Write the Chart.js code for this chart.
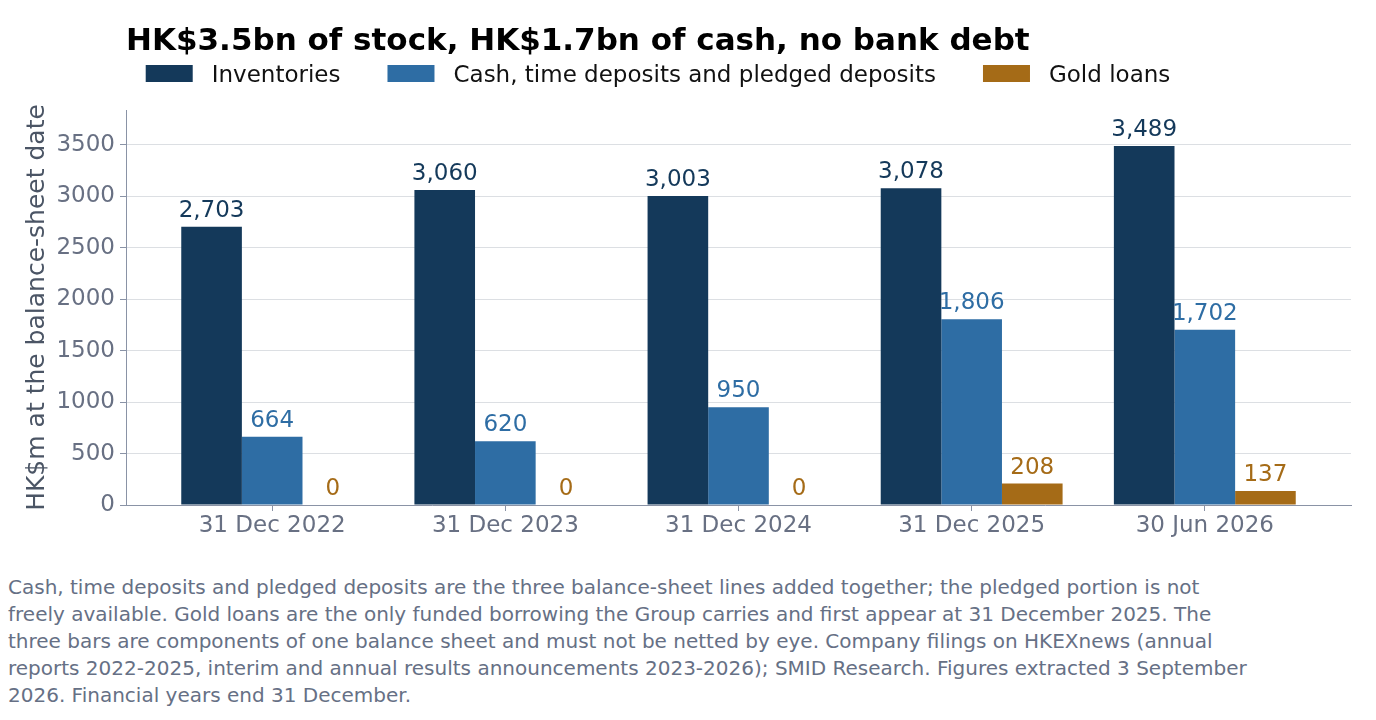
<!DOCTYPE html>
<html>
<head>
<meta charset="utf-8">
<script src="https://cdn.jsdelivr.net/npm/chart.js@4.4.1/dist/chart.umd.min.js"></script>
<style>
  html, body { margin: 0; padding: 0; background: #fff; }
  #wrap { position: relative; width: 1376px; height: 720px; }
  #chart { position: absolute; left: 0; top: 0; }
  #note {
    position: absolute; left: 8px; top: 574px; width: 1368px;
    font-family: "DejaVu Sans", sans-serif; font-size: 20px; line-height: 27px;
    color: #667085; white-space: nowrap;
  }
</style>
</head>
<body>
<div id="wrap">
  <canvas id="chart" width="1376" height="560"></canvas>
  <div id="note">Cash, time deposits and pledged deposits are the three balance-sheet lines added together; the pledged portion is not<br>freely available. Gold loans are the only funded borrowing the Group carries and first appear at 31 December 2025. The<br>three bars are components of one balance sheet and must not be netted by eye. Company filings on HKEXnews (annual<br>reports 2022-2025, interim and annual results announcements 2023-2026); SMID Research. Figures extracted 3 September<br>2026. Financial years end 31 December.</div>
</div>
<script>
const dates = ["31 Dec 2022", "31 Dec 2023", "31 Dec 2024", "31 Dec 2025", "30 Jun 2026"];
const inventories = [2703, 3060, 3003, 3078, 3489];
const cashDeposits = [664, 620, 950, 1806, 1702];
const goldLoans = [0, 0, 0, 208, 137];
const yTicks = [0, 500, 1000, 1500, 2000, 2500, 3000, 3500];

const FONT = "DejaVu Sans";
const NAVY = "#14395a";
const BLUE = "#2e6da4";
const GOLD = "#a56b17";
const AXIS = "#8a93a6";
const TICK_TEXT = "#687083";

function points(values) {
  return values.map((v, i) => ({ x: i, y: v }));
}

// title + legend drawn above the plot area
const headerPlugin = {
  id: "header",
  afterDraw(chart) {
    const ctx = chart.ctx;
    ctx.save();
    ctx.fillStyle = "#000";
    ctx.font = "bold 31px '" + FONT + "'";
    ctx.textBaseline = "alphabetic";
    ctx.textAlign = "left";
    ctx.fillText("HK$3.5bn of stock, HK$1.7bn of cash, no bank debt", chart.chartArea.left, 50);

    ctx.font = "23px '" + FONT + "'";
    const sets = chart.data.datasets;
    const boxW = 47, boxH = 17, gap = 19, itemGap = 47;
    const widths = sets.map((d) => boxW + gap + ctx.measureText(d.label).width);
    const total = widths.reduce((a, b) => a + b, 0) + itemGap * (sets.length - 1);
    let x = 658 - total / 2;
    sets.forEach((d, i) => {
      ctx.fillStyle = d.backgroundColor;
      ctx.fillRect(x, 65, boxW, boxH);
      ctx.fillStyle = "#111";
      ctx.fillText(d.label, x + boxW + gap, 82);
      x += widths[i] + itemGap;
    });
    ctx.restore();
  }
};

// value labels on top of each bar
const valueLabels = {
  id: "valueLabels",
  afterDatasetsDraw(chart) {
    const ctx = chart.ctx;
    ctx.save();
    ctx.font = "23px '" + FONT + "'";
    ctx.textAlign = "center";
    ctx.textBaseline = "alphabetic";
    chart.data.datasets.forEach((ds, di) => {
      const meta = chart.getDatasetMeta(di);
      meta.data.forEach((bar, i) => {
        ctx.fillStyle = ds.labelColor;
        ctx.fillText(ds.data[i].y.toLocaleString("en-US"), bar.x, bar.y - 10);
      });
    });
    ctx.restore();
  }
};

new Chart(document.getElementById("chart"), {
  type: "bar",
  data: {
    datasets: [
      { label: "Inventories", data: points(inventories), backgroundColor: NAVY, labelColor: NAVY },
      { label: "Cash, time deposits and pledged deposits", data: points(cashDeposits), backgroundColor: BLUE, labelColor: BLUE },
      { label: "Gold loans", data: points(goldLoans), backgroundColor: GOLD, labelColor: GOLD }
    ]
  },
  options: {
    responsive: false,
    animation: false,
    layout: { padding: { top: 110, right: 25, left: 0, bottom: 0 } },
    datasets: { bar: { categoryPercentage: 0.78, barPercentage: 1.0 } },
    plugins: {
      legend: { display: false },
      tooltip: { enabled: false },
      title: { display: false }
    },
    scales: {
      x: {
        type: "linear",
        offset: false,
        min: -0.627,
        max: 4.627,
        afterBuildTicks(scale) {
          scale.ticks = dates.map((_, i) => ({ value: i }));
        },
        afterFit(scale) {
          scale.height = 560 - 505;
        },
        ticks: {
          callback: (v) => dates[v] || "",
          color: TICK_TEXT,
          font: { family: FONT, size: 23 },
          padding: 1,
          maxRotation: 0,
          autoSkip: false
        },
        grid: { offset: false, drawOnChartArea: false, tickLength: 6, tickColor: AXIS },
        border: { color: AXIS, width: 1 }
      },
      y: {
        min: 0,
        max: 3838,
        afterBuildTicks(scale) {
          scale.ticks = yTicks.map((v) => ({ value: v }));
        },
        afterFit(scale) {
          scale.width = 126;
        },
        ticks: {
          callback: (v) => String(v),
          color: TICK_TEXT,
          font: { family: FONT, size: 23 },
          padding: 5
        },
        grid: { color: "#dcdfe3", tickLength: 6, tickColor: AXIS },
        border: { color: AXIS, width: 1 },
        title: {
          display: true,
          text: "HK$m at the balance-sheet date",
          color: "#4b5565",
          font: { family: FONT, size: 25 },
          padding: { top: 22, bottom: 0 }
        }
      }
    }
  },
  plugins: [headerPlugin, valueLabels]
});
</script>
</body>
</html>
